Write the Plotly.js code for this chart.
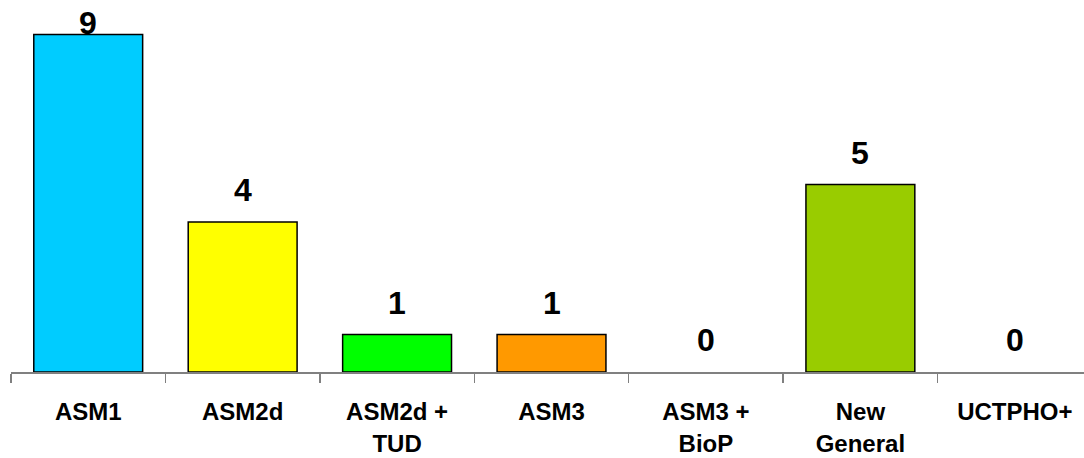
<!DOCTYPE html>
<html><head><meta charset="utf-8">
<script src="https://cdn.plot.ly/plotly-3.0.1.min.js"></script>
<style>html,body{margin:0;padding:0;background:#fff;}#chart{width:1084px;height:458px;}</style>
</head><body><div id="chart"></div>
<script>
const categories = ["ASM1", "ASM2d", "ASM2d +<br>TUD", "ASM3", "ASM3 +<br>BioP", "New<br>General", "UCTPHO+"];
const values = [9, 4, 1, 1, 0, 5, 0];
const colors = ["#00CCFF", "#FFFF00", "#00FF00", "#FF9900", "#FFFFFF", "#99CC00", "#FFFFFF"];

const FONT = "Arial, 'Liberation Sans', sans-serif";
const yMax = 9.92, plotH = 372;
const pxPerUnit = plotH / yMax;

const trace = {
  type: "bar",
  x: categories,
  y: values,
  width: 0.705,
  marker: {color: colors, line: {color: "#000000", width: values.map(v => v > 0 ? 1.5 : 0)}},
  hoverinfo: "skip"
};

// value labels placed above each bar, kept inside the figure
const annotations = values.map((v, i) => {
  const barTop = plotH - v * pxPerUnit;
  let shift = 12;
  if (barTop - shift - 40 < 0) shift = -8;
  return {
    x: categories[i], y: v, xref: "x", yref: "y",
    text: String(v), showarrow: false, yanchor: "bottom", yshift: shift,
    font: {family: FONT, size: 32, color: "#000", weight: "bold"}
  };
});

const layout = {
  width: 1084, height: 458,
  margin: {l: 10.5, r: 0, t: 0, b: 86},
  paper_bgcolor: "#fff", plot_bgcolor: "#fff",
  showlegend: false,
  font: {family: FONT, color: "#000"},
  annotations: annotations,
  xaxis: {
    type: "category",
    range: [-0.5, 6.448],
    showline: true, linecolor: "#808080", linewidth: 1.5,
    ticks: "outside", tickson: "boundaries", ticklen: 9, tickcolor: "#808080", tickwidth: 1.5,
    tickfont: {size: 24, family: FONT, color: "#000", weight: "bold"},
    ticklabelstandoff: 18,
    showgrid: false, zeroline: false, fixedrange: true
  },
  yaxis: {
    range: [0, yMax], visible: false, showgrid: false, zeroline: false, fixedrange: true
  }
};
Plotly.newPlot("chart", [trace], layout, {displayModeBar: false, staticPlot: true});
</script></body></html>
